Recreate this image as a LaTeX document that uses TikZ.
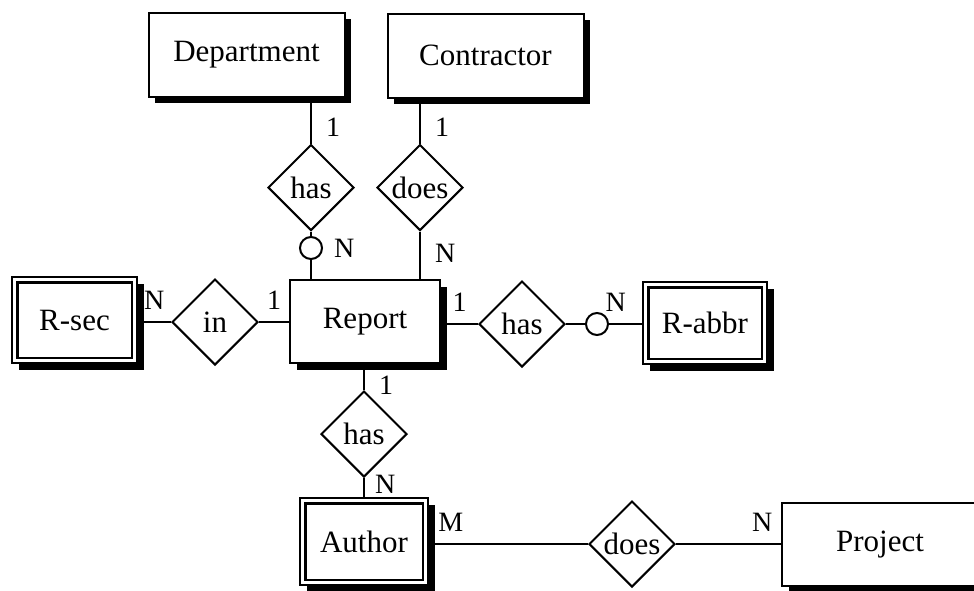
\documentclass[tikz,border=0pt]{standalone}
\usepackage{fontspec}
\setmainfont{Liberation Serif}
\usetikzlibrary{positioning,shapes.geometric,shadows}

\begin{document}
\begin{tikzpicture}[
    x=.5pt, y=-.5pt, line width=1pt,
    entity/.style={
      draw, fill=white, shape=rectangle, inner sep=2pt,
      minimum width=98pt, minimum height=42pt,
      font=\fontsize{15.5}{18}\selectfont,
      drop shadow={shadow xshift=3.4pt, shadow yshift=-3.4pt, fill=black, opacity=1}},
    weak/.style={
      entity, line width=.6pt,
      path picture={% inner frame of a weak entity
        \draw[line width=1.3pt]
        ([shift={(2.6pt,-2.6pt)}]path picture bounding box.north west) rectangle
        ([shift={(-2.6pt,2.6pt)}]path picture bounding box.south east);}},
    rel/.style={
      draw, fill=white, shape=diamond, aspect=1, inner sep=0pt,
      minimum size=43pt, font=\fontsize{15.5}{18}\selectfont},
    opt/.style={draw, fill=white, shape=circle, inner sep=0pt, minimum size=11pt},
    card/.style={font=\fontsize{14}{16}\selectfont, inner sep=2pt}]
  \useasboundingbox (0,0) rectangle (974,590);

  % entities
  \node[entity] (ent-dept) at (246.5,54.5) {Department};
  \node[entity] (ent-contr) at (485.5,55.5) {Contractor};
  \node[entity, minimum width=75pt, minimum height=41.5pt] (ent-rep) at (365,321.5) {Report};
  \node[weak, minimum width=62.5pt, minimum height=43pt] (ent-rsec) at (74.5,320) {R-sec};
  \node[weak, minimum width=62pt, minimum height=41pt] (ent-rabbr) at (705,323) {R-abbr};
  \node[weak, minimum width=64pt, minimum height=43.5pt] (ent-auth) at (364,541.5) {Author};
  \node[entity, minimum height=41.5pt] (ent-proj) at (880,544.5) {Project};

  % relationships
  \node[rel] (rel-has-d) at (311,187.5) {has};
  \node[rel] (rel-does-c) at (420,187.5) {does};
  \node[rel] (rel-in) at (215,322) {in};
  \node[rel] (rel-has-a) at (522,324) {has};
  \node[rel] (rel-has-au) at (364,434) {has};
  \node[rel] (rel-does-p) at (632,544) {does};

  % optional participation
  \node[opt, label={[card, label distance=3pt]right:N}] (opt-d) at (311,248) {};
  \node[opt] (opt-a) at (597,324) {};

  % upper links
  \foreach \r/\e in {rel-has-d/ent-dept, rel-does-c/ent-contr}
  \draw (\r) -- node[card, pos=.35, right=5pt] {1} (\r |- \e.south);
  \draw (rel-has-d) -- (opt-d) -- (opt-d |- ent-rep.north);
  \draw (rel-does-c) -- node[card, pos=.45, right=5pt] {N} (rel-does-c |- ent-rep.north);

  % left and right of the report
  \draw (rel-in) -- node[card, above=4pt] {N} (rel-in -| ent-rsec.east);
  \draw (rel-in) -- node[card, above=4pt] {1} (rel-in -| ent-rep.west);
  \draw (rel-has-a) -- node[card, above=4pt] {1} (rel-has-a -| ent-rep.east);
  \draw (rel-has-a) -- (opt-a) -- node[card, pos=.2, above=4pt] {N} (opt-a -| ent-rabbr.west);

  % authors and projects
  \draw (rel-has-au) -- node[card, pos=.2, right=5pt] {1} (rel-has-au |- ent-rep.south);
  \draw (rel-has-au) -- node[card, pos=.3, right=3pt] {N} (rel-has-au |- ent-auth.north);
  \draw (rel-does-p) -- node[card, pos=.86, above=4pt] {M} (rel-does-p -| ent-auth.east);
  \draw (rel-does-p) -- node[card, pos=.82, above=4pt] {N} (rel-does-p -| ent-proj.west);
\end{tikzpicture}
\end{document}
